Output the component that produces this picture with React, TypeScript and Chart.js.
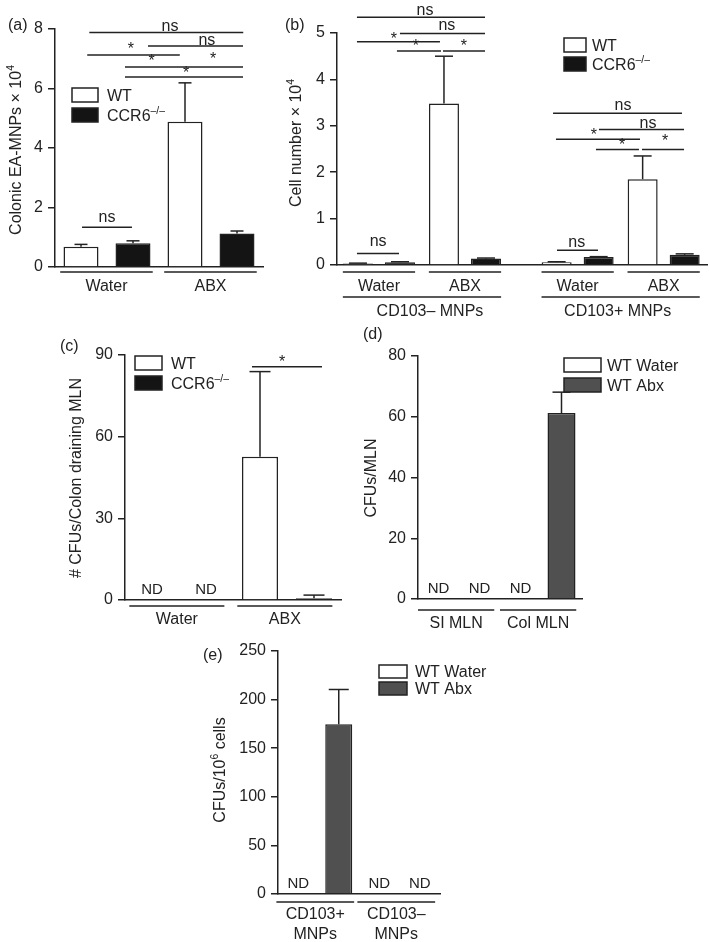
import React, { useEffect, useRef } from "react";
import { Chart, registerables } from "chart.js";
Chart.register(...registerables);

const W = 709;
const H = 942;
const FONT = "'Liberation Sans', Arial, Helvetica, sans-serif";
const INK = "#222222";
const BLACK = "#141414";
const GREY = "#505050";
const YW = 40;
const XH = 10;

// ---------- Panel (a) ----------
const A_GROUPS = ["Water", "ABX"];
const A_WT = [0.68, 4.88];
const A_WT_ERR = [0.08, 1.31];
const A_KO = [0.8, 1.13];
const A_KO_ERR = [0.08, 0.08];
const A_TICKS = [0, 2, 4, 6, 8];
const A_SIG_LINES = [
  [-0.17, 1.31, 7.88], [0.394, 1.308, 7.43], [-0.19, 0.7, 7.13],
  [0.173, 1.308, 6.72], [0.173, 1.308, 6.39], [-0.24, 0.24, 1.34],
];
const A_SIG_TEXT: [number, number, string][] = [
  [0.606, 8.07, "ns"], [0.96, 7.61, "ns"], [0.23, 7.46, "*"], [0.43, 7.06, "*"],
  [1.02, 7.13, "*"], [0.76, 6.66, "*"], [0, 1.65, "ns"],
];

// ---------- Panel (b) ----------
const B_GROUPS = ["Water", "ABX", "Water", "ABX"];
const B_SUPER = ["CD103\u2013 MNPs", "CD103+ MNPs"];
const B_WT = [0.03, 3.48, 0.06, 1.85];
const B_WT_ERR = [0.01, 1.02, 0.01, 0.5];
const B_KO = [0.06, 0.14, 0.17, 0.22];
const B_KO_ERR = [0.01, 0.01, 0.01, 0.02];
const B_TICKS = [0, 1, 2, 3, 4, 5];
const B_GROUP_X = [0, 1, 2.31, 3.31];
const B_SIG_LINES = [
  [-0.256, 1.233, 5.34], [0.244, 1.233, 4.99], [-0.256, 0.709, 4.81],
  [0.209, 0.721, 4.61], [0.744, 1.233, 4.61], [-0.256, 0.233, 0.25],
  [2.024, 3.523, 3.27], [2.558, 3.547, 2.92], [2.058, 3.035, 2.71],
  [2.523, 3.023, 2.49], [3.058, 3.547, 2.49], [2.07, 2.547, 0.32],
];
const B_SIG_TEXT: [number, number, string][] = [
  [0.535, 5.48, "ns"], [0.79, 5.15, "ns"], [0.174, 4.96, "*"], [0.43, 4.81, "*"],
  [0.988, 4.81, "*"], [-0.01, 0.5, "ns"],
  [2.837, 3.42, "ns"], [3.128, 3.05, "ns"], [2.5, 2.89, "*"], [2.826, 2.68, "*"],
  [3.326, 2.76, "*"], [2.3, 0.485, "ns"],
];

// ---------- Panel (c) ----------
const C_GROUPS = ["Water", "ABX"];
const C_WT = [null, 52.6];
const C_WT_ERR = [null, 31.3];
const C_KO = [null, 0.6];
const C_KO_ERR = [null, 1.2];
const C_TICKS = [0, 30, 60, 90];
const C_SIG_LINES = [[0.676, 1.324, 85.7]];
const C_SIG_TEXT: [number, number, string][] = [[0.954, 88.9, "*"]];

// ---------- Panel (d) ----------
const D_GROUPS = ["SI MLN", "Col MLN"];
const D_WATER = [null, null];
const D_ABX = [null, 61.2];
const D_ABX_ERR = [null, 6.9];
const D_TICKS = [0, 20, 40, 60, 80];

// ---------- Panel (e) ----------
const E_GROUPS = [["CD103+", "MNPs"], ["CD103\u2013", "MNPs"]];
const E_WATER = [null, null];
const E_ABX = [174.7, null];
const E_ABX_ERR = [35.7, null];
const E_TICKS = [0, 50, 100, 150, 200, 250];

type Seg = { t: string; sup?: boolean };

function setFont(ctx: CanvasRenderingContext2D, size: number) {
  ctx.font = `${size}px ${FONT}`;
}
function richWidth(ctx: CanvasRenderingContext2D, segs: Seg[], fs: number) {
  let w = 0;
  for (const s of segs) {
    setFont(ctx, s.sup ? fs * 0.65 : fs);
    w += ctx.measureText(s.t).width;
  }
  return w;
}
function drawRich(ctx: CanvasRenderingContext2D, segs: Seg[], x: number, baseline: number, fs: number, align: string) {
  const w = richWidth(ctx, segs, fs);
  let cx = align === "left" ? x : align === "center" ? x - w / 2 : x - w;
  ctx.textAlign = "left";
  ctx.textBaseline = "alphabetic";
  for (const s of segs) {
    const size = s.sup ? fs * 0.65 : fs;
    setFont(ctx, size);
    ctx.fillText(s.t, cx, s.sup ? baseline - fs * 0.4 : baseline);
    cx += ctx.measureText(s.t).width;
  }
}
function baseOff(t: string, fs: number) {
  if (t === "*") return 0.58 * fs;
  if (t === "ns") return 0.26 * fs;
  return 0.36 * fs;
}
function textC(ctx: CanvasRenderingContext2D, t: string, x: number, yc: number, fs: number) {
  setFont(ctx, fs);
  ctx.textAlign = "center";
  ctx.textBaseline = "alphabetic";
  ctx.fillText(t, x, yc + baseOff(t, fs));
}

function makeDecor(cfg: any) {
  return {
    id: "decor",
    afterDraw(chart: any) {
      const ctx = chart.ctx as CanvasRenderingContext2D;
      const xs = chart.scales.x;
      const ys = chart.scales.y;
      const X = (v: number) => xs.getPixelForValue(v);
      const Y = (v: number) => ys.getPixelForValue(v);
      const base = chart.chartArea.bottom;
      ctx.save();
      ctx.strokeStyle = INK;
      ctx.fillStyle = INK;
      ctx.lineWidth = 1.5;
      const line = (x1: number, y1: number, x2: number, y2: number) => {
        ctx.beginPath();
        ctx.moveTo(x1, y1);
        ctx.lineTo(x2, y2);
        ctx.stroke();
      };
      // error bars and ND labels
      cfg.series.forEach((s: any, di: number) => {
        const meta = chart.getDatasetMeta(di);
        s.values.forEach((v: number | null, j: number) => {
          const el = meta.data[j];
          const x = el ? el.x : NaN;
          if (v == null) {
            if (cfg.nd && isFinite(x)) {
              setFont(ctx, 15);
              ctx.textAlign = "center";
              ctx.textBaseline = "alphabetic";
              ctx.fillText("ND", x, base - 6);
            }
            return;
          }
          const e = s.errors ? s.errors[j] : null;
          if (e == null) return;
          const y0 = Y(v);
          const y1 = Y(v + e);
          line(x, y0, x, y1);
          line(x - cfg.capW / 2, y1, x + cfg.capW / 2, y1);
        });
      });
      // group underlines and labels
      const g = cfg.groups;
      g.centers.forEach((c: number, i: number) => {
        const x1 = X(c + g.lo);
        const x2 = X(c + g.hi);
        line(x1, base + g.ulDy, x2, base + g.ulDy);
        const lab = g.labels[i];
        const rows = Array.isArray(lab) ? lab : [lab];
        rows.forEach((t: string, k: number) => textC(ctx, t, (x1 + x2) / 2, base + g.lblDy + k * (g.lineGap || 20), 16));
      });
      if (cfg.supers) {
        const s = cfg.supers;
        s.members.forEach((m: number[], i: number) => {
          const x1 = X(g.centers[m[0]] + g.lo);
          const x2 = X(g.centers[m[m.length - 1]] + g.hi);
          line(x1, base + s.ulDy, x2, base + s.ulDy);
          textC(ctx, s.labels[i], (x1 + x2) / 2 + (s.dx ? s.dx[i] : 0), base + s.lblDy, 16);
        });
      }
      // significance
      cfg.sigLines.forEach((l: number[]) => line(X(l[0]), Y(l[2]), X(l[1]), Y(l[2])));
      cfg.sigTexts.forEach((t: [number, number, string]) => textC(ctx, t[2], X(t[0]), Y(t[1]), 16));
      // legend
      const lg = cfg.legend;
      lg.items.forEach((it: any, i: number) => {
        const by = lg.y + i * lg.step;
        ctx.fillStyle = it.fill;
        ctx.fillRect(lg.x, by, lg.bw, lg.bh);
        ctx.strokeStyle = INK;
        ctx.lineWidth = 1.5;
        ctx.strokeRect(lg.x, by, lg.bw, lg.bh);
        ctx.fillStyle = INK;
        drawRich(ctx, it.segs, lg.x + lg.tx, by + lg.bh / 2 + 0.36 * 16, 16, "left");
      });
      // y title
      const yt = cfg.yTitle;
      ctx.save();
      ctx.translate(yt.x, yt.y);
      ctx.rotate(-Math.PI / 2);
      drawRich(ctx, yt.segs, 0, 0.36 * 16, 16, "center");
      ctx.restore();
      // panel label
      setFont(ctx, 16);
      ctx.textAlign = "left";
      ctx.textBaseline = "alphabetic";
      ctx.fillText(cfg.panel.t, cfg.panel.x, cfg.panel.y);
      ctx.restore();
    },
  };
}

function makeOptions(area: any, yMax: number, yTicks: number[], xScale: any) {
  return {
    responsive: false,
    maintainAspectRatio: false,
    animation: false,
    devicePixelRatio: 1,
    events: [],
    layout: { padding: { left: area.l - YW, top: area.t, right: W - area.r, bottom: H - area.b - XH } },
    plugins: { legend: { display: false }, tooltip: { enabled: false } },
    scales: {
      x: {
        ...xScale,
        grid: { display: false },
        ticks: { display: false },
        border: { display: true, color: INK, width: 1.5 },
        afterFit: (s: any) => { s.height = XH; },
      },
      y: {
        type: "linear",
        min: 0,
        max: yMax,
        afterBuildTicks: (s: any) => { s.ticks = yTicks.map((v) => ({ value: v })); },
        afterFit: (s: any) => { s.width = YW; },
        grid: { display: true, drawOnChartArea: false, drawTicks: true, tickLength: 7, color: INK, lineWidth: 1.5 },
        border: { display: true, color: INK, width: 1.5 },
        ticks: { font: { family: FONT, size: 16 }, color: INK, padding: 5 },
      },
    },
  };
}

const barStyle = (fill: string) => ({ backgroundColor: fill, borderColor: INK, borderWidth: 1.5 });

function buildA() {
  const area = { l: 55, t: 29, r: 263, b: 267 };
  return {
    type: "bar",
    data: {
      labels: A_GROUPS,
      datasets: [
        { label: "WT", data: A_WT, ...barStyle("#ffffff"), categoryPercentage: 1, barPercentage: 0.673 },
        { label: "CCR6-/-", data: A_KO, ...barStyle(BLACK), categoryPercentage: 1, barPercentage: 0.673 },
      ],
    },
    options: makeOptions(area, 8, A_TICKS, { type: "category" }),
    plugins: [makeDecor({
      series: [{ values: A_WT, errors: A_WT_ERR }, { values: A_KO, errors: A_KO_ERR }],
      capW: 13, nd: false,
      groups: { centers: [0, 1], labels: A_GROUPS, lo: -0.45, hi: 0.44, ulDy: 5, lblDy: 18 },
      sigLines: A_SIG_LINES, sigTexts: A_SIG_TEXT,
      legend: { x: 72, y: 88, bw: 26, bh: 14, step: 20, tx: 35, items: [
        { fill: "#ffffff", segs: [{ t: "WT" }] },
        { fill: BLACK, segs: [{ t: "CCR6" }, { t: "\u2013/\u2013", sup: true }] },
      ] },
      yTitle: { x: 15, y: 150, segs: [{ t: "Colonic EA-MNPs \u00d7 10" }, { t: "4", sup: true }] },
      panel: { t: "(a)", x: 8, y: 30 },
    })],
  };
}

function buildB() {
  const area = { l: 337, t: 33, r: 707, b: 265 };
  const xScale = {
    type: "linear", min: -0.488, max: 3.814, offset: false, bounds: "data",
    afterBuildTicks: (s: any) => { s.ticks = B_GROUP_X.map((v) => ({ value: v })); },
  };
  return {
    type: "bar",
    data: {
      datasets: [
        { label: "WT", data: B_WT.map((y, i) => ({ x: B_GROUP_X[i], y })), ...barStyle("#ffffff"), categoryPercentage: 0.977, barPercentage: 0.714 },
        { label: "CCR6-/-", data: B_KO.map((y, i) => ({ x: B_GROUP_X[i], y })), ...barStyle(BLACK), categoryPercentage: 0.977, barPercentage: 0.714 },
      ],
    },
    options: makeOptions(area, 5, B_TICKS, xScale),
    plugins: [makeDecor({
      series: [{ values: B_WT, errors: B_WT_ERR }, { values: B_KO, errors: B_KO_ERR }],
      capW: 18, nd: false,
      groups: { centers: B_GROUP_X, labels: B_GROUPS, lo: -0.42, hi: 0.42, ulDy: 7, lblDy: 20 },
      supers: { members: [[0, 1], [2, 3]], labels: B_SUPER, ulDy: 32, lblDy: 45, dx: [8, -3] },
      sigLines: B_SIG_LINES, sigTexts: B_SIG_TEXT,
      legend: { x: 564, y: 38, bw: 22, bh: 14, step: 19, tx: 28, items: [
        { fill: "#ffffff", segs: [{ t: "WT" }] },
        { fill: BLACK, segs: [{ t: "CCR6" }, { t: "\u2013/\u2013", sup: true }] },
      ] },
      yTitle: { x: 295, y: 143, segs: [{ t: "Cell number \u00d7 10" }, { t: "4", sup: true }] },
      panel: { t: "(b)", x: 285, y: 30 },
    })],
  };
}

function buildC() {
  const area = { l: 125, t: 355, r: 341, b: 600 };
  return {
    type: "bar",
    data: {
      labels: C_GROUPS,
      datasets: [
        { label: "WT", data: C_WT, ...barStyle("#ffffff"), categoryPercentage: 1, barPercentage: 0.667 },
        { label: "CCR6-/-", data: C_KO, ...barStyle(BLACK), categoryPercentage: 1, barPercentage: 0.667 },
      ],
    },
    options: makeOptions(area, 90, C_TICKS, { type: "category" }),
    plugins: [makeDecor({
      series: [{ values: C_WT, errors: C_WT_ERR }, { values: C_KO, errors: C_KO_ERR }],
      capW: 21, nd: true,
      groups: { centers: [0, 1], labels: C_GROUPS, lo: -0.46, hi: 0.42, ulDy: 6, lblDy: 18 },
      sigLines: C_SIG_LINES, sigTexts: C_SIG_TEXT,
      legend: { x: 135, y: 356, bw: 27, bh: 14, step: 20, tx: 36, items: [
        { fill: "#ffffff", segs: [{ t: "WT" }] },
        { fill: BLACK, segs: [{ t: "CCR6" }, { t: "\u2013/\u2013", sup: true }] },
      ] },
      yTitle: { x: 75, y: 478, segs: [{ t: "# CFUs/Colon draining MLN" }] },
      panel: { t: "(c)", x: 60, y: 351 },
    })],
  };
}

function buildD() {
  const area = { l: 418, t: 356, r: 582, b: 599 };
  return {
    type: "bar",
    data: {
      labels: D_GROUPS,
      datasets: [
        { label: "WT Water", data: D_WATER, ...barStyle("#ffffff"), categoryPercentage: 1, barPercentage: 0.683 },
        { label: "WT Abx", data: D_ABX, ...barStyle(GREY), categoryPercentage: 1, barPercentage: 0.683 },
      ],
    },
    options: makeOptions(area, 80, D_TICKS, { type: "category" }),
    plugins: [makeDecor({
      series: [{ values: D_WATER }, { values: D_ABX, errors: D_ABX_ERR }],
      capW: 18, nd: true,
      groups: { centers: [0, 1], labels: D_GROUPS, lo: -0.5, hi: 0.43, ulDy: 11, lblDy: 23 },
      sigLines: [], sigTexts: [],
      legend: { x: 564, y: 358, bw: 37, bh: 14, step: 20, tx: 43, items: [
        { fill: "#ffffff", segs: [{ t: "WT Water" }] },
        { fill: GREY, segs: [{ t: "WT Abx" }] },
      ] },
      yTitle: { x: 370, y: 478, segs: [{ t: "CFUs/MLN" }] },
      panel: { t: "(d)", x: 363, y: 339 },
    })],
  };
}

function buildE() {
  const area = { l: 278, t: 651, r: 440, b: 894 };
  return {
    type: "bar",
    data: {
      labels: E_GROUPS.map((g) => g.join(" ")),
      datasets: [
        { label: "WT Water", data: E_WATER, ...barStyle("#ffffff"), categoryPercentage: 1, barPercentage: 0.667 },
        { label: "WT Abx", data: E_ABX, ...barStyle(GREY), categoryPercentage: 1, barPercentage: 0.667 },
      ],
    },
    options: makeOptions(area, 250, E_TICKS, { type: "category" }),
    plugins: [makeDecor({
      series: [{ values: E_WATER }, { values: E_ABX, errors: E_ABX_ERR }],
      capW: 20, nd: true,
      groups: { centers: [0, 1], labels: E_GROUPS, lo: -0.52, hi: 0.44, ulDy: 8, lblDy: 19, lineGap: 20 },
      sigLines: [], sigTexts: [],
      legend: { x: 379, y: 665, bw: 28, bh: 13, step: 17, tx: 36, items: [
        { fill: "#ffffff", segs: [{ t: "WT Water" }] },
        { fill: GREY, segs: [{ t: "WT Abx" }] },
      ] },
      yTitle: { x: 219, y: 770, segs: [{ t: "CFUs/10" }, { t: "6", sup: true }, { t: " cells" }] },
      panel: { t: "(e)", x: 203, y: 660 },
    })],
  };
}

function ChartPanel({ build }: { build: () => any }) {
  const ref = useRef<HTMLCanvasElement>(null);
  useEffect(() => {
    const chart = new Chart(ref.current as HTMLCanvasElement, build());
    return () => chart.destroy();
  }, []);
  return (
    <canvas
      ref={ref}
      width={W}
      height={H}
      style={{ position: "absolute", left: 0, top: 0, width: W, height: H, pointerEvents: "none" }}
    />
  );
}

export default function App() {
  return (
    <div style={{ position: "absolute", left: 0, top: 0, width: W, height: H, background: "#ffffff", overflow: "hidden" }}>
      <ChartPanel build={buildA} />
      <ChartPanel build={buildB} />
      <ChartPanel build={buildC} />
      <ChartPanel build={buildD} />
      <ChartPanel build={buildE} />
    </div>
  );
}
